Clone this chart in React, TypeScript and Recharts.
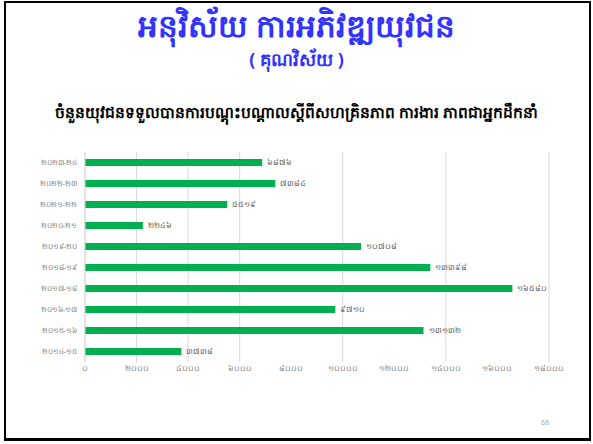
import React from 'react';
import { BarChart, Bar, XAxis, YAxis, CartesianGrid, LabelList } from 'recharts';

const categories = ['២០២៣-២៤', '២០២២-២៣', '២០២១-២២', '២០២០-២១', '២០១៩-២០', '២០១៨-១៩', '២០១៧-១៨', '២០១៦-១៧', '២០១៥-១៦', '២០១៤-១៥'];
const trainedYouth = [6876, 7384, 5519, 2246, 10708, 13398, 16580, 9710, 13132, 3738];
const xTicks = [0, 2000, 4000, 6000, 8000, 10000, 12000, 14000, 16000, 18000];

const KHMER_DIGITS = ['០', '១', '២', '៣', '៤', '៥', '៦', '៧', '៨', '៩'];
const toKhmer = (n: number | string) => String(n).replace(/[0-9]/g, (d) => KHMER_DIGITS[Number(d)]);

const data = categories.map((name, i) => ({ name, value: trainedYouth[i] }));

const FONT = '"Noto Sans", "DejaVu Sans", sans-serif';

export default function App() {
  return (
    <div style={{ position: 'absolute', left: 0, top: 0, width: 593, height: 444, background: '#fff', fontFamily: FONT, overflow: 'hidden' }}>
      {/* slide frame */}
      <div style={{ position: 'absolute', left: 4, top: 1, width: 583, height: 435, border: '2px solid #000', borderBottomWidth: 3 }} />

      <div style={{ position: 'absolute', top: 4, width: 593, textAlign: 'center', color: '#3333ff', fontWeight: 'bold', fontSize: 31 }}>
        អនុវិស័យ ការអភិវឌ្ឍយុវជន
      </div>
      <div style={{ position: 'absolute', top: 47, width: 593, textAlign: 'center', color: '#3333ff', fontWeight: 'bold', fontSize: 18 }}>
        ( គុណវិស័យ )
      </div>
      <div style={{ position: 'absolute', top: 101, width: 593, textAlign: 'center', color: '#000', fontWeight: 'bold', fontSize: 15.5 }}>
        ចំនួនយុវជនទទួលបានការបណ្តុះបណ្តាលស្តីពីសហគ្រិនភាព ការងារ ភាពជាអ្នកដឹកនាំ
      </div>

      <div style={{ position: 'absolute', left: 0, top: 140 }}>
        <BarChart
          width={593}
          height={250}
          data={data}
          layout="vertical"
          margin={{ top: 12, right: 44, bottom: 8, left: 10 }}
        >
          <CartesianGrid horizontal={false} stroke="#d9d9d9" />
          <XAxis
            type="number"
            domain={[0, 18000]}
            ticks={xTicks}
            tickFormatter={toKhmer}
            axisLine={false}
            tickLine={false}
            tickSize={0}
            tickMargin={3}
            height={20}
            tick={{ fontSize: 8, fill: '#7f7f7f', fontFamily: FONT }}
          />
          <YAxis
            type="category"
            dataKey="name"
            width={75}
            axisLine={{ stroke: '#d9d9d9' }}
            tickLine={false}
            tickSize={0}
            tickMargin={8}
            tick={{ fontSize: 7.5, fill: '#7f7f7f', fontFamily: FONT }}
          />
          <Bar dataKey="value" fill="#00b050" barSize={7} isAnimationActive={false}>
            <LabelList
              dataKey="value"
              position="right"
              offset={5}
              formatter={(v: number) => toKhmer(v)}
              style={{ fontSize: 8, fill: '#595959', fontFamily: FONT }}
            />
          </Bar>
        </BarChart>
      </div>

      <div style={{ position: 'absolute', left: 541, top: 418, fontSize: 7, color: '#a6a6a6' }}>68</div>
    </div>
  );
}
